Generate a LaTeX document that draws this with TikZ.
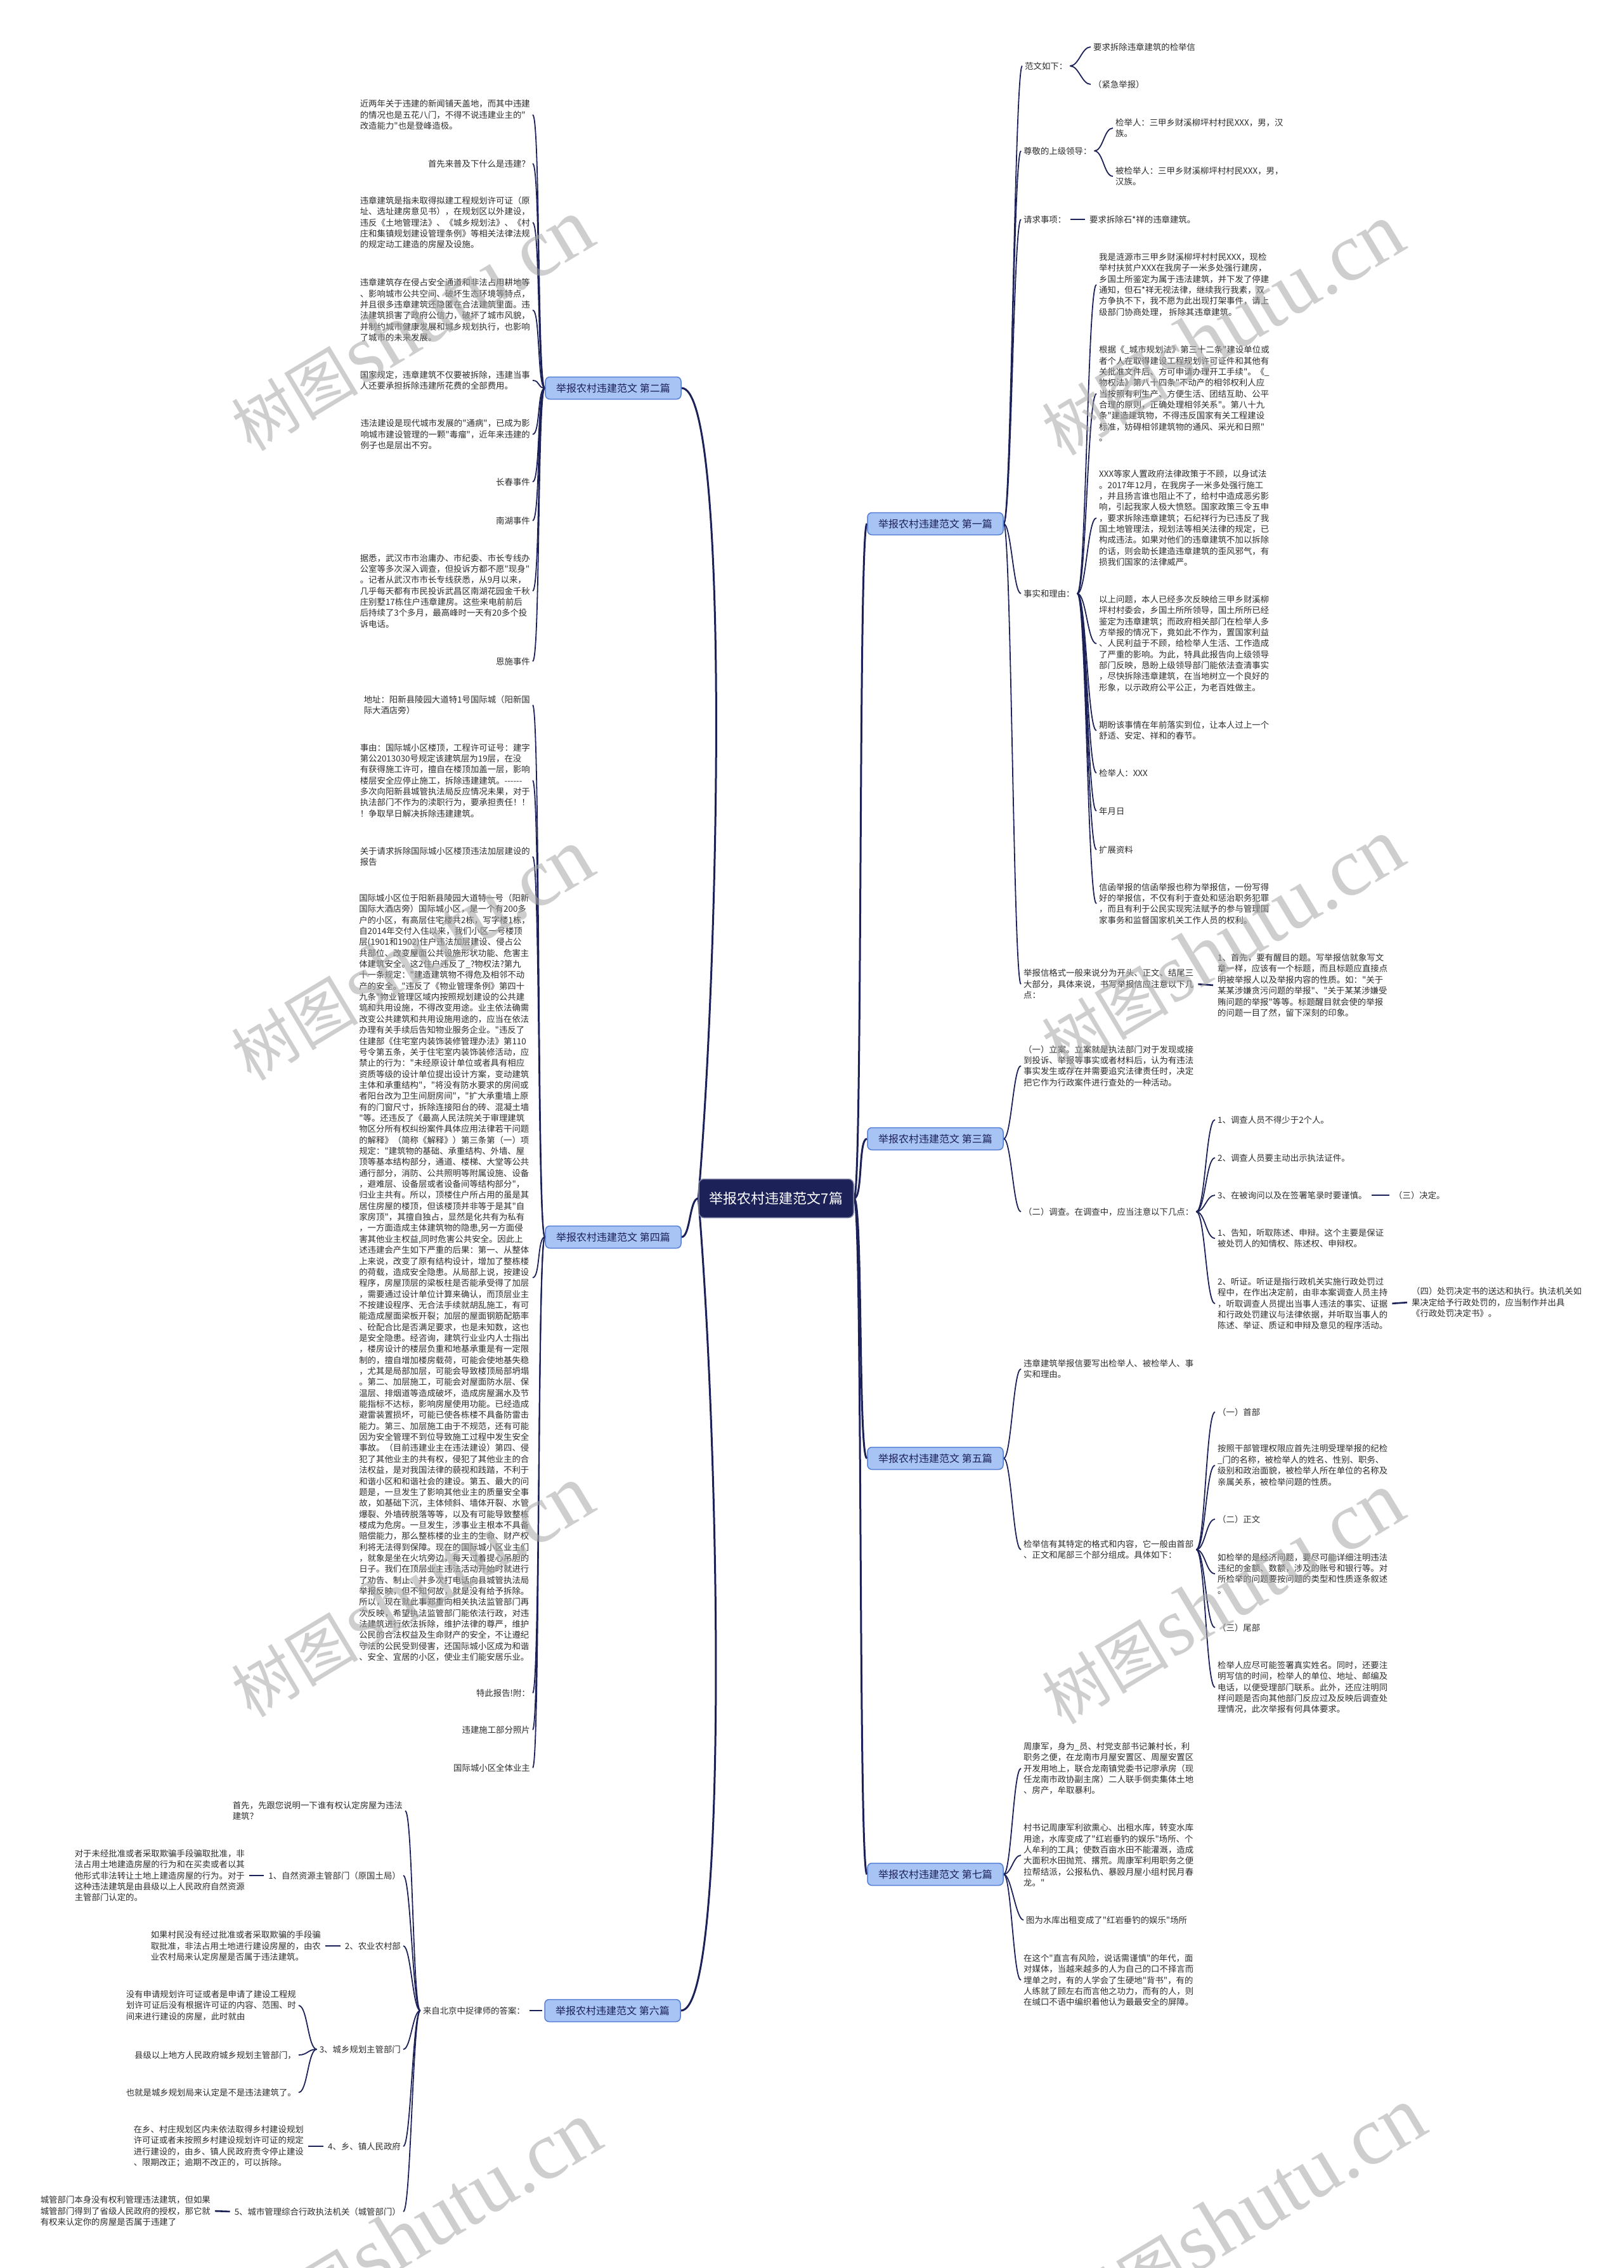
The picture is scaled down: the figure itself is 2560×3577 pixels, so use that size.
\documentclass[tikz,border=0pt]{standalone}
\usepackage{fontspec}
\newfontfamily\cjk{Noto Sans CJK SC}
\newfontfamily\wmlatin{Liberation Serif}
\usepackage{tikz}
\usetikzlibrary{backgrounds}
\definecolor{mapnavy}{RGB}{28,33,88}
\definecolor{chapterfill}{RGB}{168,196,244}
\definecolor{chapterline}{RGB}{86,126,214}
\definecolor{leafink}{RGB}{45,45,45}

\begin{document}
\begin{tikzpicture}[x=1pt, y=-1pt,
    hub/.style={fill=mapnavy, draw=mapnavy!55, line width=1.5pt, rounded corners=8pt, text=white,
      font=\cjk\fontsize{22}{26}\selectfont, minimum width=244pt, minimum height=61pt, inner sep=0pt},
    chapter/.style={fill=chapterfill, draw=chapterline, line width=1.5pt, rounded corners=7pt, text=mapnavy,
      font=\cjk\fontsize{16}{19}\selectfont, minimum width=214pt, minimum height=35pt, inner sep=0pt},
    leaf/.style={font=\cjk\fontsize{13.4}{17.35}\selectfont, text=leafink, align=left, inner sep=4pt},
    leafL/.style={leaf, anchor=east},
    leafR/.style={leaf, anchor=west},
    trunk/.style={draw=mapnavy, line width=3pt},
    twig/.style={draw=mapnavy, line width=1.8pt},
    bar/.style={draw=mapnavy, line width=2.6pt, shorten <=3pt, shorten >=3pt},
    stamp/.style={rotate=31, text=black!35, text opacity=0.55, inner sep=0pt}]
  \useasboundingbox (0,0) rectangle (2560,3577);

  % Centre and chapters
  \node[hub] (c) at (1224,1890) {举报农村违建范文7篇};
  \node[chapter] (b1) at (1475,826) {举报农村违建范文 第一篇};
  \node[chapter] (b3) at (1475,1796) {举报农村违建范文 第三篇};
  \node[chapter] (b5) at (1475,2300) {举报农村违建范文 第五篇};
  \node[chapter] (b7) at (1475,2956) {举报农村违建范文 第七篇};
  \node[chapter] (b2) at (967,612) {举报农村违建范文 第二篇};
  \node[chapter] (b4) at (967,1951) {举报农村违建范文 第四篇};
  \node[chapter] (b6) at (966,3171) {举报农村违建范文 第六篇};

  % Chapter two
  \node[leafL] (t2a) at (840,181) {近两年关于违建的新闻铺天盖地，而其中违建\\的情况也是五花八门，不得不说违建业主的"\\改造能力"也是登峰造极。};
  \node[leafL] (t2b) at (840,258) {首先来普及下什么是违建？};
  \node[leafL] (t2c) at (840,351) {违章建筑是指未取得拟建工程规划许可证（原\\址、选址建房意见书），在规划区以外建设，\\违反《土地管理法》、《城乡规划法》、《村\\庄和集镇规划建设管理条例》等相关法律法规\\的规定动工建造的房屋及设施。};
  \node[leafL] (t2d) at (840,489) {违章建筑存在侵占安全通道和非法占用耕地等\\、影响城市公共空间、破坏生态环境等特点，\\并且很多违章建筑还隐匿在合法建筑里面。违\\法建筑损害了政府公信力，破坏了城市风貌，\\并制约城市健康发展和城乡规划执行，也影响\\了城市的未来发展。};
  \node[leafL] (t2e) at (840,600) {国家规定，违章建筑不仅要被拆除，违建当事\\人还要承担拆除违建所花费的全部费用。};
  \node[leafL] (t2f) at (840,685) {违法建设是现代城市发展的"通病"，已成为影\\响城市建设管理的一颗"毒瘤"，近年来违建的\\例子也是层出不穷。};
  \node[leafL] (t2g) at (840,760) {长春事件};
  \node[leafL] (t2h) at (840,821) {南湖事件};
  \node[leafL] (t2i) at (840,932) {据悉，武汉市市治庸办、市纪委、市长专线办\\公室等多次深入调查，但投诉方都不愿"现身"\\。记者从武汉市市长专线获悉，从9月以来，\\几乎每天都有市民投诉武昌区南湖花园金千秋\\庄别墅17栋住户违章建房。这些来电前前后\\后持续了3个多月，最高峰时一天有20多个投\\诉电话。};
  \node[leafL] (t2j) at (840,1043) {恩施事件};

  % Chapter four
  \node[leafL] (t4a) at (840,1112) {地址：阳新县陵园大道特1号国际城（阳新国\\际大酒店旁）};
  \node[leafL] (t4b) at (840,1231) {事由：国际城小区楼顶，工程许可证号：建字\\第公2013030号规定该建筑层为19层，在没\\有获得施工许可，擅自在楼顶加盖一层，影响\\楼层安全应停止施工，拆除违建建筑。------\\多次向阳新县城管执法局反应情况未果，对于\\执法部门不作为的渎职行为，要承担责任！！\\！争取早日解决拆除违建建筑。};
  \node[leafL] (t4c) at (840,1351) {关于请求拆除国际城小区楼顶违法加层建设的\\报告};
  \node[leafL] (t4d) at (840,2015) {国际城小区位于阳新县陵园大道特一号（阳新\\国际大酒店旁）国际城小区，是一个有200多\\户的小区，有高层住宅楼共2栋，写字楼1栋，\\自2014年交付入住以来，我们小区一号楼顶\\层(1901和1902)住户违法加层建设、侵占公\\共部位、改变屋面公共设施形状功能、危害主\\体建筑安全。这2住户违反了\_?物权法?第九\\十一条规定："建造建筑物不得危及相邻不动\\产的安全。"违反了《物业管理条例》第四十\\九条"物业管理区域内按照规划建设的公共建\\筑和共用设施，不得改变用途。业主依法确需\\改变公共建筑和共用设施用途的，应当在依法\\办理有关手续后告知物业服务企业。"违反了\\住建部《住宅室内装饰装修管理办法》第110\\号令第五条，关于住宅室内装饰装修活动，应\\禁止的行为："未经原设计单位或者具有相应\\资质等级的设计单位提出设计方案，变动建筑\\主体和承重结构"，"将没有防水要求的房间或\\者阳台改为卫生间厨房间"，"扩大承重墙上原\\有的门窗尺寸，拆除连接阳台的砖、混凝土墙\\"等。还违反了《最高人民法院关于审理建筑\\物区分所有权纠纷案件具体应用法律若干问题\\的解释》（简称《解释》）第三条第（一）项\\规定："建筑物的基础、承重结构、外墙、屋\\顶等基本结构部分，通道、楼梯、大堂等公共\\通行部分，消防、公共照明等附属设施、设备\\，避难层、设备层或者设备间等结构部分"，\\归业主共有。所以，顶楼住户所占用的虽是其\\居住房屋的楼顶，但该楼顶并非等于是其"自\\家房顶"，其擅自独占，显然是化共有为私有\\，一方面造成主体建筑物的隐患,另一方面侵\\害其他业主权益,同时危害公共安全。因此上\\述违建会产生如下严重的后果：第一、从整体\\上来说，改变了原有结构设计，增加了整栋楼\\的荷载，造成安全隐患。从局部上说，按建设\\程序，房屋顶层的梁板柱是否能承受得了加层\\，需要通过设计单位计算来确认，而顶层业主\\不按建设程序、无合法手续就胡乱施工，有可\\能造成屋面梁板开裂；加层的屋面钢筋配筋率\\、砼配合比是否满足要求，也是未知数，这也\\是安全隐患。经咨询，建筑行业业内人士指出\\，楼房设计的楼层负重和地基承重是有一定限\\制的，擅自增加楼房载荷，可能会使地基失稳\\，尤其是局部加层，可能会导致楼顶局部坍塌\\。第二、加层施工，可能会对屋面防水层、保\\温层、排烟道等造成破坏，造成房屋漏水及节\\能指标不达标，影响房屋使用功能。已经造成\\避雷装置损坏，可能已使各栋楼不具备防雷击\\能力。第三、加层施工由于不规范，还有可能\\因为安全管理不到位导致施工过程中发生安全\\事故。（目前违建业主在违法建设）第四、侵\\犯了其他业主的共有权，侵犯了其他业主的合\\法权益，是对我国法律的藐视和践踏，不利于\\和谐小区和和谐社会的建设。第五、最大的问\\题是，一旦发生了影响其他业主的质量安全事\\故，如基础下沉，主体倾斜、墙体开裂、水管\\爆裂、外墙砖脱落等等，以及有可能导致整栋\\楼成为危房。一旦发生，涉事业主根本不具备\\赔偿能力，那么整栋楼的业主的生命、财产权\\利将无法得到保障。现在的国际城小区业主们\\，就象是坐在火坑旁边，每天过着提心吊胆的\\日子。我们在顶层业主违法活动开始时就进行\\了劝告、制止、并多次打电话向县城管执法局\\举报反映，但不知何故，就是没有给予拆除。\\所以，现在就此事郑重向相关执法监管部门再\\次反映，希望执法监管部门能依法行政，对违\\法建筑进行依法拆除，维护法律的尊严，维护\\公民的合法权益及生命财产的安全，不让遵纪\\守法的公民受到侵害，还国际城小区成为和谐\\、安全、宜居的小区，使业主们能安居乐业。};
  \node[leafL] (t4e) at (840,2670) {特此报告!附：};
  \node[leafL] (t4f) at (840,2728) {违建施工部分照片};
  \node[leafL] (t4g) at (840,2788) {国际城小区全体业主};

  % Chapter six
  \node[leafL] (q6) at (832,3171) {来自北京中捉律师的答案：};
  \node[leafL] (s1) at (639,2856) {首先，先跟您说明一下谁有权认定房屋为违法\\建筑？};
  \node[leafL] (s2) at (636,2958) {1、自然资源主管部门（原国土局）};
  \node[leafL] (s2d) at (390,2958) {对于未经批准或者采取欺骗手段骗取批准，非\\法占用土地建造房屋的行为和在买卖或者以其\\他形式非法转让土地上建造房屋的行为。对于\\这种违法建筑是由县级以上人民政府自然资源\\主管部门认定的。};
  \node[leafL] (s3) at (636,3069) {2、农业农村部};
  \node[leafL] (s3d) at (510,3069) {如果村民没有经过批准或者采取欺骗的手段骗\\取批准，非法占用土地进行建设房屋的，由农\\业农村局来认定房屋是否属于违法建筑。};
  \node[leafL] (s4) at (636,3232) {3、城乡规划主管部门};
  \node[leafL] (s4a) at (471,3163) {没有申请规划许可证或者是申请了建设工程规\\划许可证后没有根据许可证的内容、范围、时\\间来进行建设的房屋，此时就由};
  \node[leafL] (s4b) at (471,3241) {县级以上地方人民政府城乡规划主管部门，};
  \node[leafL] (s4c) at (471,3300) {也就是城乡规划局来认定是不是违法建筑了。};
  \node[leafL] (s5) at (636,3385) {4、乡、镇人民政府};
  \node[leafL] (s5d) at (483,3385) {在乡、村庄规划区内未依法取得乡村建设规划\\许可证或者未按照乡村建设规划许可证的规定\\进行建设的，由乡、镇人民政府责令停止建设\\、限期改正；逾期不改正的，可以拆除。};
  \node[leafL] (s6) at (636,3488) {5、城市管理综合行政执法机关（城管部门）};
  \node[leafL] (s6d) at (336,3487) {城管部门本身没有权利管理违法建筑，但如果\\城管部门得到了省级人民政府的授权，那它就\\有权来认定你的房屋是否属于违建了};

  % Chapter one
  \node[leafR] (r1a) at (1612,104) {范文如下：};
  \node[leafR] (r1a1) at (1720,74) {要求拆除违章建筑的检举信};
  \node[leafR] (r1a2) at (1720,133) {（紧急举报）};
  \node[leafR] (r1b) at (1610,238) {尊敬的上级领导：};
  \node[leafR] (r1b1) at (1755,202) {检举人：三甲乡财溪柳坪村村民XXX，男，汉\\族。};
  \node[leafR] (r1b2) at (1755,278) {被检举人：三甲乡财溪柳坪村村民XXX，男，\\汉族。};
  \node[leafR] (r1c) at (1610,346) {请求事项：};
  \node[leafR] (r1c1) at (1714,346) {要求拆除石*祥的违章建筑。};
  \node[leafR] (r1d) at (1610,936) {事实和理由：};
  \node[leafR] (r1d1) at (1729,449) {我是涟源市三甲乡财溪柳坪村村民XXX，现检\\举村扶贫户XXX在我房子一米多处强行建房，\\乡国土所鉴定为属于违法建筑，并下发了停建\\通知，但石*祥无视法律，继续我行我素，双\\方争执不下，我不愿为此出现打架事件，请上\\级部门协商处理， 拆除其违章建筑。};
  \node[leafR] (r1d2) at (1729,621) {根据《\_城市规划法》第三十二条"建设单位或\\者个人在取得建设工程规划许可证件和其他有\\关批准文件后、方可申请办理开工手续"。《\_\\物权法》第八十四条"不动产的相邻权利人应\\当按照有利生产、方便生活、团结互助、公平\\合理的原则，正确处理相邻关系"。第八十九\\条"建造建筑物，不得违反国家有关工程建设\\标准，妨碍相邻建筑物的通风、采光和日照"\\。};
  \node[leafR] (r1d3) at (1729,817) {XXX等家人置政府法律政策于不顾，以身试法\\。2017年12月，在我房子一米多处强行施工\\，并且扬言谁也阻止不了，给村中造成恶劣影\\响，引起我家人极大愤怒。国家政策三令五申\\，要求拆除违章建筑；石纪祥行为已违反了我\\国土地管理法，规划法等相关法律的规定，已\\构成违法。如果对他们的违章建筑不加以拆除\\的话，则会助长建造违章建筑的歪风邪气，有\\损我们国家的法律威严。};
  \node[leafR] (r1d4) at (1729,1015) {以上问题，本人已经多次反映给三甲乡财溪柳\\坪村村委会，乡国土所所领导，国土所所已经\\鉴定为违章建筑；而政府相关部门在检举人多\\方举报的情况下，竟如此不作为，置国家利益\\、人民利益于不顾，给检举人生活、工作造成\\了严重的影响。为此，特具此报告向上级领导\\部门反映，恳盼上级领导部门能依法查清事实\\，尽快拆除违章建筑，在当地树立一个良好的\\形象，以示政府公平公正，为老百姓做主。};
  \node[leafR] (r1d5) at (1729,1152) {期盼该事情在年前落实到位，让本人过上一个\\舒适、安定、祥和的春节。};
  \node[leafR] (r1d6) at (1729,1219) {检举人：XXX};
  \node[leafR] (r1d7) at (1729,1279) {年月日};
  \node[leafR] (r1d8) at (1729,1340) {扩展资料};
  \node[leafR] (r1d9) at (1729,1425) {信函举报的信函举报也称为举报信，一份写得\\好的举报信，不仅有利于查处和惩治职务犯罪\\，而且有利于公民实现宪法赋予的参与管理国\\家事务和监督国家机关工作人员的权利。};
  \node[leafR] (r1e) at (1610,1552) {举报信格式一般来说分为开头、正文、结尾三\\大部分，具体来说，书写举报信应注意以下几\\点：};
  \node[leafR] (r1e1) at (1916,1554) {1、首先，要有醒目的题。写举报信就象写文\\章一样，应该有一个标题，而且标题应直接点\\明被举报人以及举报内容的性质。如："关于\\某某涉嫌贪污问题的举报"、"关于某某涉嫌受\\贿问题的举报"等等。标题醒目就会使的举报\\的问题一目了然，留下深刻的印象。};

  % Chapter three
  \node[leafR] (r3a) at (1610,1681) {（一）立案。立案就是执法部门对于发现或接\\到投诉、举报等事实或者材料后，认为有违法\\事实发生或存在并需要追究法律责任时，决定\\把它作为行政案件进行查处的一种活动。};
  \node[leafR] (r3b) at (1610,1911) {（二）调查。在调查中，应当注意以下几点：};
  \node[leafR] (r3b1) at (1916,1766) {1、调查人员不得少于2个人。};
  \node[leafR] (r3b2) at (1916,1826) {2、调查人员要主动出示执法证件。};
  \node[leafR] (r3b3) at (1916,1885) {3、在被询问以及在签署笔录时要谨慎。};
  \node[leafR] (r3b3a) at (2194,1885) {（三）决定。};
  \node[leafR] (r3b4) at (1916,1953) {1、告知，听取陈述、申辩。这个主要是保证\\被处罚人的知情权、陈述权、申辩权。};
  \node[leafR] (r3b5) at (1916,2056) {2、听证。听证是指行政机关实施行政处罚过\\程中，在作出决定前，由非本案调查人员主持\\，听取调查人员提出当事人违法的事实、证据\\和行政处罚建议与法律依据，并听取当事人的\\陈述、举证、质证和申辩及意见的程序活动。};
  \node[leafR] (r3b5a) at (2222,2054) {（四）处罚决定书的送达和执行。执法机关如\\果决定给予行政处罚的，应当制作并出具\\《行政处罚决定书》。};

  % Chapter five
  \node[leafR] (r5a) at (1610,2159) {违章建筑举报信要写出检举人、被检举人、事\\实和理由。};
  \node[leafR] (r5b) at (1610,2444) {检举信有其特定的格式和内容，它一般由首部\\、正文和尾部三个部分组成。具体如下：};
  \node[leafR] (r5b1) at (1916,2227) {（一）首部};
  \node[leafR] (r5b2) at (1916,2311) {按照干部管理权限应首先注明受理举报的纪检\\\_门的名称，被检举人的姓名、性别、职务、\\级别和政治面貌，被检举人所在单位的名称及\\亲属关系，被检举问题的性质。};
  \node[leafR] (r5b3) at (1916,2396) {（二）正文};
  \node[leafR] (r5b4) at (1916,2482) {如检举的是经济问题，要尽可能详细注明违法\\违纪的金额、数额，涉及的账号和银行等。对\\所检举的问题要按问题的类型和性质逐条叙述\\。};
  \node[leafR] (r5b5) at (1916,2567) {（三）尾部};
  \node[leafR] (r5b6) at (1916,2661) {检举人应尽可能签署真实姓名。同时，还要注\\明写信的时间，检举人的单位、地址、邮编及\\电话，以便受理部门联系。此外，还应注明同\\样问题是否向其他部门反应过及反映后调查处\\理情况，此次举报有何具体要求。};

  % Chapter seven
  \node[leafR] (r7a) at (1610,2789) {周康军，身为\_员、村党支部书记兼村长，利\\职务之便，在龙南市月屋安置区、周屋安置区\\开发用地上，联合龙南镇党委书记廖承房（现\\任龙南市政协副主席）二人联手倒卖集体土地\\、房产，牟取暴利。};
  \node[leafR] (r7b) at (1610,2926) {村书记周康军利欲熏心、出租水库，转变水库\\用途，水库变成了"红岩垂钓的娱乐"场所、个\\人牟利的工具；使数百亩水田不能灌溉，造成\\大面积水田抛荒、撂荒。周康军利用职务之便\\拉帮结派，公报私仇、暴殴月屋小组村民月春\\龙。"};
  \node[leafR] (r7c) at (1614,3028) {图为水库出租变成了"红岩垂钓的娱乐"场所};
  \node[leafR] (r7d) at (1610,3123) {在这个"直言有风险，说话需谨慎"的年代，面\\对媒体，当越来越多的人为自己的口不择言而\\埋单之时，有的人学会了生硬地"背书"，有的\\人练就了顾左右而言他之功力，而有的人，则\\在缄口不语中编织着他认为最最安全的屏障。};

  % Connectors
  \begin{scope}[on background layer]
    \fill[white] (0,0) rectangle (2560,3577);
    \foreach \n in {b1,b3,b5,b7}
      \draw[trunk] (c.east) .. controls +(14,0) and +(-14,0) .. (\n.west);
    \draw[trunk] (c.west) .. controls +(35,-420) and +(75,0) .. (b2.east);
    \draw[trunk] (c.west) .. controls +(-14,0) and +(14,0) .. (b4.east);
    \draw[trunk] (c.west) .. controls +(35,420) and +(75,0) .. (b6.east);
    % left chapters
    \foreach \n in {t2a,t2b,t2c,t2d,t2e,t2f,t2g,t2h,t2i,t2j}
      \draw[twig] (b2.west) .. controls +(-12,0) and +(12,0) .. (\n.east);
    \foreach \n in {t4a,t4b,t4c,t4d,t4e,t4f,t4g}
      \draw[twig] (b4.west) .. controls +(-12,0) and +(12,0) .. (\n.east);
    \draw[bar] (b6.west) -- (q6.east);
    \foreach \n in {s1,s2,s3,s4,s5,s6}
      \draw[twig] (q6.west) .. controls +(-12,0) and +(12,0) .. (\n.east);
    \foreach \n in {s4a,s4b,s4c}
      \draw[twig] (s4.west) .. controls +(-14,0) and +(14,0) .. (\n.east);
    \foreach \a/\b in {s2/s2d,s3/s3d,s5/s5d,s6/s6d}
      \draw[bar] (\a.west) -- (\b.east);
    % right chapters
    \foreach \n in {r1a,r1b,r1c,r1d,r1e}
      \draw[twig] (b1.east) .. controls +(12,0) and +(-12,0) .. (\n.west);
    \foreach \n in {r1a1,r1a2}
      \draw[twig] (r1a.east) .. controls +(14,0) and +(-14,0) .. (\n.west);
    \foreach \n in {r1b1,r1b2}
      \draw[twig] (r1b.east) .. controls +(14,0) and +(-14,0) .. (\n.west);
    \foreach \n in {r1d1,r1d2,r1d3,r1d4,r1d5,r1d6,r1d7,r1d8,r1d9}
      \draw[twig] (r1d.east) .. controls +(14,0) and +(-14,0) .. (\n.west);
    \foreach \n in {r3a,r3b}
      \draw[twig] (b3.east) .. controls +(12,0) and +(-12,0) .. (\n.west);
    \foreach \n in {r3b1,r3b2,r3b3,r3b4,r3b5}
      \draw[twig] (r3b.east) .. controls +(14,0) and +(-14,0) .. (\n.west);
    \foreach \n in {r5a,r5b}
      \draw[twig] (b5.east) .. controls +(12,0) and +(-12,0) .. (\n.west);
    \foreach \n in {r5b1,r5b2,r5b3,r5b4,r5b5,r5b6}
      \draw[twig] (r5b.east) .. controls +(14,0) and +(-14,0) .. (\n.west);
    \foreach \n in {r7a,r7b,r7c,r7d}
      \draw[twig] (b7.east) .. controls +(12,0) and +(-12,0) .. (\n.west);
    \foreach \a/\b in {r1c/r1c1,r1e/r1e1,r3b3/r3b3a,r3b5/r3b5a}
      \draw[bar] (\a.east) -- (\b.west);
  \end{scope}

  % Watermarks
  \foreach \x/\y in {650/513,1928/520,650/1506,1928/1490,650/2510,1928/2521,662/3514,1962/3491}
    \node[stamp] at (\x,\y) {{\cjk\fontsize{100}{110}\selectfont 树图}\ {\wmlatin\fontsize{130}{140}\selectfont shutu.cn}};
\end{tikzpicture}
\end{document}
